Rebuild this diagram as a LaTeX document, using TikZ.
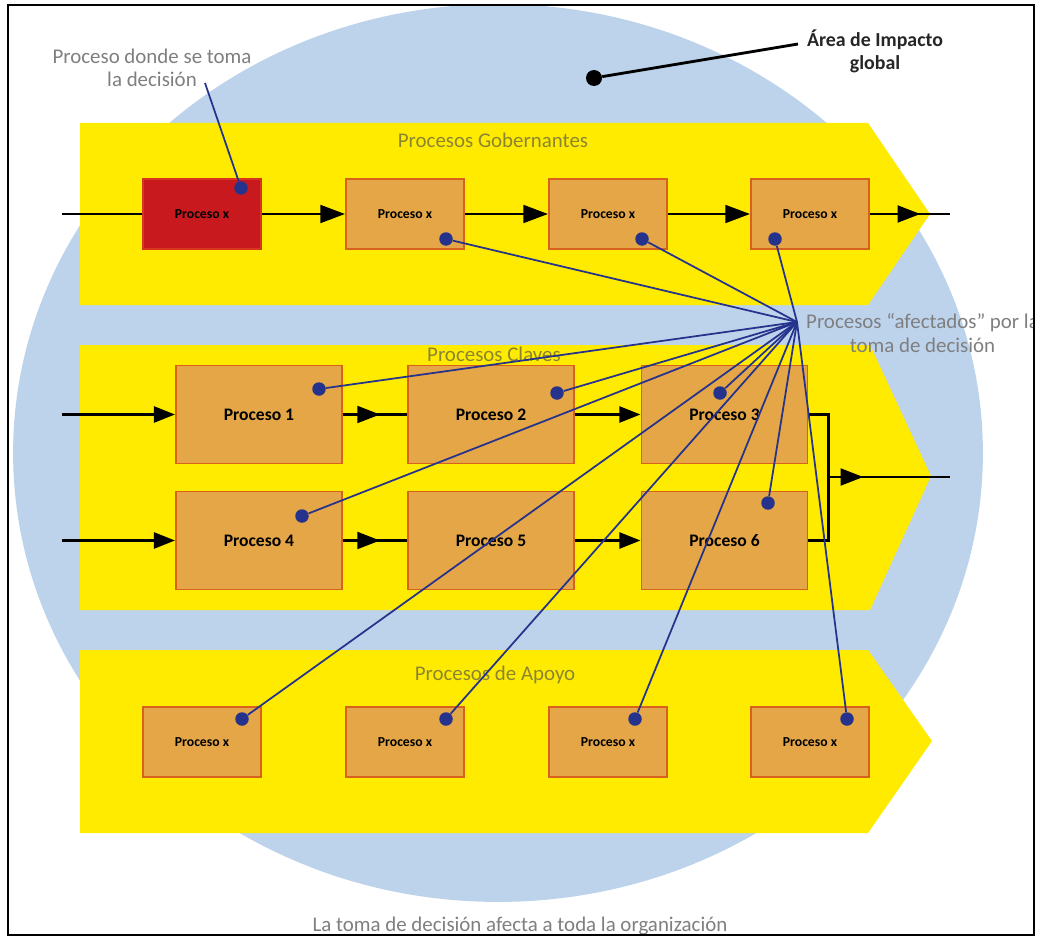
\documentclass[tikz,border=0pt]{standalone}
\usepackage{fontspec}
\setmainfont{Carlito}
\usetikzlibrary{arrows.meta,decorations.markings}

\definecolor{areablue}{HTML}{BDD3EB}
\definecolor{bandyellow}{HTML}{FFEB00}
\definecolor{boxfill}{HTML}{E4A646}
\definecolor{boxline}{HTML}{D8621C}
\definecolor{decisionred}{HTML}{C8191F}
\definecolor{decisionline}{HTML}{D8361E}
\definecolor{navy}{HTML}{26338C}
\definecolor{notegray}{HTML}{7F7F7F}
\definecolor{bandtitle}{HTML}{8C8530}

\tikzset{
  band/.style={fill=bandyellow},
  bandlabel/.style={text=bandtitle, font=\fontsize{11.9}{13.5}\selectfont},
  smallbox/.style={draw=boxline, fill=boxfill, line width=1.1pt,
    minimum width=2.36cm, minimum height=1.4cm, inner sep=0pt,
    font=\bfseries\fontsize{7.8}{9}\selectfont},
  bigbox/.style={draw=boxline, fill=boxfill, line width=1.1pt,
    minimum width=3.32cm, minimum height=1.96cm, inner sep=0pt,
    font=\bfseries\fontsize{10}{12}\selectfont},
  redbox/.style={smallbox, draw=decisionline, fill=decisionred},
  flow/.style={line width=1.7pt, black},
  tiptop/.style={-{Triangle[length=14pt,width=10pt]}},
  tipmid/.style={-{Triangle[length=12pt,width=9pt]}},
  midarrow/.style={postaction={decorate}, decoration={markings,
    mark=at position #1 with {\arrow{Triangle[length=13pt,width=9.5pt]}}}},
  dot/.style={circle, fill=navy, inner sep=0pt, minimum size=0.27cm},
  link/.style={draw=navy, line width=1pt},
  note/.style={text=notegray, align=center, font=\fontsize{11.9}{13.2}\selectfont},
  boldnote/.style={text=black!85, align=center, font=\bfseries\fontsize{11.3}{13.2}\selectfont},
}

\begin{document}
\begin{tikzpicture}[x=0.02cm, y=-0.02cm]
\useasboundingbox (0,0) rectangle (1041,936);
\fill[white] (0,0) rectangle (1041,936);

\begin{scope}
\clip (8,5) rectangle (1034,935);

% area of global impact
\fill[areablue] (498,453) ellipse [x radius=9.7cm, y radius=8.98cm];

% process bands
\fill[band] (80,123) -- (868,123) -- (930,214) -- (868,305) -- (80,305) -- cycle;
\fill[band] (80,345) -- (870,345) -- (931,476) -- (870,610) -- (80,610) -- cycle;
\fill[band] (80,650) -- (868,650) -- (932,741) -- (868,833) -- (80,833) -- cycle;

\node[bandlabel] (tgob) at (493,140) {Procesos Gobernantes};
\node[bandlabel] (tcla) at (494,354) {Procesos Claves};
\node[bandlabel] (tapo) at (495,675) {Procesos de Apoyo};

% governing processes
\node[redbox]   (tx1) at (202,214) {Proceso x};
\node[smallbox] (tx2) at (405,214) {Proceso x};
\node[smallbox] (tx3) at (608,214) {Proceso x};
\node[smallbox] (tx4) at (810,214) {Proceso x};

% key processes
\node[bigbox] (p1) at (259,414.5) {Proceso 1};
\node[bigbox] (p2) at (491,414.5) {Proceso 2};
\node[bigbox] (p3) at (724.5,414.5) {Proceso 3};
\node[bigbox] (p4) at (259,540.5) {Proceso 4};
\node[bigbox] (p5) at (491,540.5) {Proceso 5};
\node[bigbox] (p6) at (724.5,540.5) {Proceso 6};

% support processes
\node[smallbox] (bx1) at (202,742) {Proceso x};
\node[smallbox] (bx2) at (405,742) {Proceso x};
\node[smallbox] (bx3) at (608,742) {Proceso x};
\node[smallbox] (bx4) at (810,742) {Proceso x};

% governing flow
\coordinate (in1) at (62,214);
\coordinate (out1) at (950,214);
\draw[flow] (in1) -- (tx1.west);
\draw[flow, tiptop] (tx1.east) -- (tx2.west);
\draw[flow, tiptop] (tx2.east) -- (tx3.west);
\draw[flow, tiptop] (tx3.east) -- (tx4.west);
\draw[flow, midarrow=0.63] (tx4.east) -- (out1);

% key flow
\coordinate (in2) at (62,414.5);
\coordinate (in3) at (62,540.5);
\coordinate (merge) at (828,477);
\coordinate (out2) at (950,477);
\draw[flow, tipmid] (in2) -- (p1.west);
\draw[flow, midarrow=0.58] (p1.east) -- (p2.west);
\draw[flow, tipmid] (p2.east) -- (p3.west);
\draw[flow, tipmid] (in3) -- (p4.west);
\draw[flow, midarrow=0.58] (p4.east) -- (p5.west);
\draw[flow, tipmid] (p5.east) -- (p6.west);
\draw[flow] (p3.east) -| (merge) |- (p6.east);
\draw[flow, midarrow=0.29] (merge) -- (out2);

% decision point and affected processes
\node[dot] (dr)  at (241,188) {};
\node[dot] (dt2) at (446,239) {};
\node[dot] (dt3) at (642,239) {};
\node[dot] (dt4) at (775,239) {};
\node[dot] (d1)  at (319,389) {};
\node[dot] (d2)  at (557,393) {};
\node[dot] (d3)  at (720,393) {};
\node[dot] (d4)  at (302,516) {};
\node[dot] (d6)  at (768,503) {};
\node[dot] (db1) at (242,719) {};
\node[dot] (db2) at (446,719) {};
\node[dot] (db3) at (635,719) {};
\node[dot] (db4) at (847,719) {};

\coordinate (hub) at (797,322);
\foreach \d in {dt2,dt3,dt4,d1,d2,d3,d4,d6,db1,db2,db3,db4}
  \draw[link] (\d) -- (hub);

% annotations
\node[note] (decide) at (152,68) {Proceso donde se toma\\la decisión};
\coordinate (decideend) at (205,83);
\draw[link] (dr) -- (decideend);

\node[circle, fill=black, inner sep=0pt, minimum size=0.32cm] (impactdot) at (594,78) {};
\node[boldnote] (impact) at (875,51) {Área de Impacto\\global};
\coordinate (impactend) at (798,44);
\draw[line width=1.6pt, black] (impactdot) -- (impactend);

\node[note, anchor=west] (affected) at (800,333) {Procesos “afectados” por la\\\hspace*{0pt}toma de decisión};

\node[note] (footer) at (520,926) {La toma de decisión afecta a toda la organización};
\end{scope}

% page frame
\draw[line width=1.3pt, black] (8,5) rectangle (1034,935);
\end{tikzpicture}
\end{document}
